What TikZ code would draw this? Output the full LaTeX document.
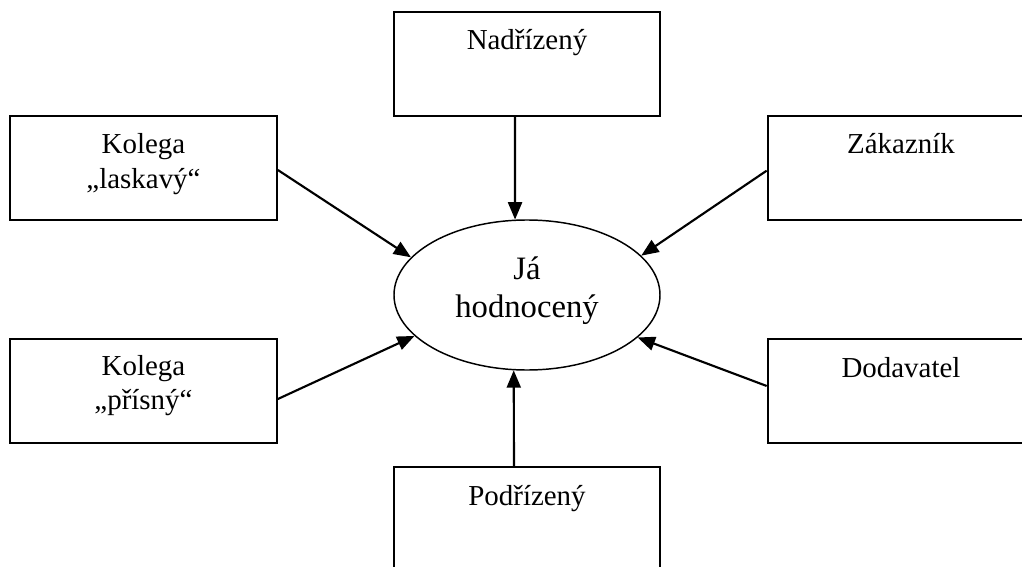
\documentclass[tikz,border=0pt]{standalone}
\usepackage{fontspec}
\setmainfont{Liberation Serif}
\usetikzlibrary{arrows.meta,shapes.geometric}

\begin{document}
\begin{tikzpicture}[x=0.75pt,y=-0.75pt,
		box/.style={draw,line width=1.5pt,rectangle,minimum width=200pt,minimum height=78pt,inner sep=0pt},
		txt/.style={font=\fontsize{21.7}{25.5}\selectfont,align=center,anchor=base,inner sep=0pt},
		conn/.style={line width=1.6pt,-{Triangle[length=13pt,width=10.5pt]}}]
		\useasboundingbox (0,0) rectangle (1022,567);
		\clip (0,0) rectangle (1022,567);
		% boxes
		\node[box] (nadr) at (527,64) {};
		\node[box] (klask) at (143.5,168) {};
		\node[box] (zak) at (901,168) {};
		\node[box] (kpris) at (143.5,390.5) {};
		\node[box] (dod) at (901,390.5) {};
		\node[box] (podr) at (527,519) {};
		\node[draw,line width=1.1pt,ellipse,minimum width=199.5pt,minimum height=112.5pt,inner sep=0pt] (ja) at (527,295) {};
		% texts (base = last line)
		\node[txt] (tnadr) at (527,50) {Nadřízený};
		\node[txt] (tklask) at (143.5,188) {Kolega\\„laskavý“};
		\node[txt] (tzak) at (901,154) {Zákazník};
		\node[txt] (tkpris) at (143.5,409) {Kolega\\„přísný“};
		\node[txt] (tdod) at (901,377) {Dodavatel};
		\node[txt] (tpodr) at (527,505) {Podřízený};
		\node[txt,font=\fontsize{24.5}{28.5}\selectfont] (tja) at (527,317) {Já\\hodnocený};
		% arrows
		\draw[conn] ([xshift=-9pt]nadr.south) -- (ja.99);
		\draw[conn] ([yshift=-1.5pt]klask.east) -- (ja.162);
		\draw[conn] ([yshift=-2pt]zak.west) -- (ja.19);
		\draw[conn] ([yshift=-6.4pt]kpris.east) -- (ja.200);
		\draw[conn] ([yshift=3.4pt]dod.west) -- (ja.339);
		\draw[conn] ([xshift=-9.75pt]podr.north) -- (ja.260);
	\end{tikzpicture}
\end{document}
